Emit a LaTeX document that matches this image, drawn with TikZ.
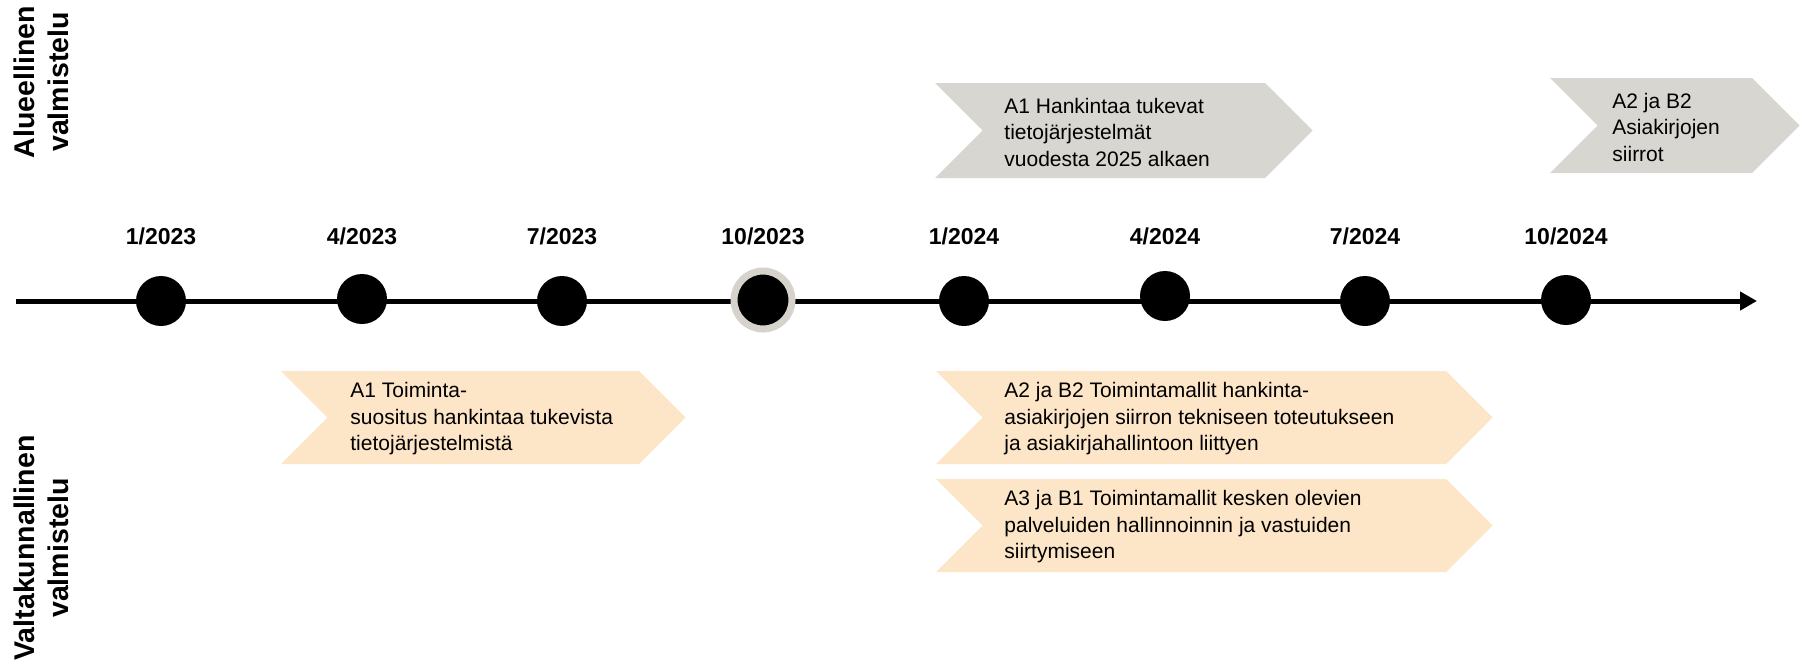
\documentclass[tikz,border=0pt]{standalone}
\usepackage{fontspec}
\setmainfont{Liberation Sans}
\usetikzlibrary{arrows.meta}
\definecolor{chgray}{RGB}{216,214,208}
\definecolor{chorange}{RGB}{253,229,200}
\definecolor{ringgray}{RGB}{214,211,204}
\begin{document}
\begin{tikzpicture}[x=0.5pt,y=-0.5pt,
  boxtext/.style={anchor=west,align=left,inner sep=0pt,font=\fontsize{10.5}{13.25}\selectfont,text=black},
  datelbl/.style={anchor=base,inner sep=0pt,font=\fontsize{11.5}{14}\selectfont\bfseries},
  sidelbl/.style={rotate=90,align=center,inner sep=0pt,font=\fontsize{14.25}{17}\selectfont\bfseries},
  dot/.style={circle,fill=black,minimum size=25pt,inner sep=0pt},
  ringdot/.style={circle,fill=black,draw=ringgray,line width=3.5pt,minimum size=29pt,inner sep=0pt},
  timeline/.style={line width=2.5pt,-{Triangle[length=8.5pt,width=9pt]}}]
\useasboundingbox (0,0) rectangle (1802,665);

% side labels
\node[sidelbl] (lab1) at (41,82) {Alueellinen\\valmistelu};
\node[sidelbl] (lab2) at (41,548) {Valtakunnallinen\\valmistelu};

% chevrons
\fill[chgray] (935,83) -- (1265,83) -- (1312.5,130.5) -- (1265,178) -- (935,178) -- (982.5,130.5) -- cycle;
\fill[chgray] (1550,78) -- (1752,78) -- (1799.5,125.5) -- (1752,173) -- (1550,173) -- (1597.5,125.5) -- cycle;
\fill[chorange] (281,371) -- (639,371) -- (685.5,417.5) -- (639,464) -- (281,464) -- (327.5,417.5) -- cycle;
\fill[chorange] (936,371) -- (1446,371) -- (1492.5,417.5) -- (1446,464) -- (936,464) -- (982.5,417.5) -- cycle;
\fill[chorange] (936,479) -- (1446,479) -- (1492.5,525.5) -- (1446,572) -- (936,572) -- (982.5,525.5) -- cycle;

% chevron texts
\node[boxtext] (t1) at (1004,132) {A1 Hankintaa tukevat\\tietojärjestelmät\\vuodesta 2025 alkaen};
\node[boxtext] (t2) at (1612,127) {A2 ja B2\\Asiakirjojen\\siirrot};
\node[boxtext] (t3) at (350,419) {A1 Toiminta-\\suositus hankintaa tukevista\\tietojärjestelmistä};
\node[boxtext] (t4) at (1004,419) {A2 ja B2 Toimintamallit hankinta-\\asiakirjojen siirron tekniseen toteutukseen\\ja asiakirjahallintoon liittyen};
\node[boxtext] (t5) at (1004,527) {A3 ja B1 Toimintamallit kesken olevien\\palveluiden hallinnoinnin ja vastuiden\\siirtymiseen};

% timeline
\coordinate (tstart) at (16,301);
\coordinate (tend) at (1757,301);
\draw[timeline] (tstart) -- (tend);

\node[dot] (d1) at (161,301) {};
\node[dot] (d2) at (362,299) {};
\node[dot] (d3) at (562,301) {};
\node[ringdot] (d4) at (763,300) {};
\node[dot] (d5) at (964,301) {};
\node[dot] (d6) at (1165,296) {};
\node[dot] (d7) at (1365,301) {};
\node[dot] (d8) at (1566,300) {};

\node[datelbl] (l1) at (161,244) {1/2023};
\node[datelbl] (l2) at (362,244) {4/2023};
\node[datelbl] (l3) at (562,244) {7/2023};
\node[datelbl] (l4) at (763,244) {10/2023};
\node[datelbl] (l5) at (964,244) {1/2024};
\node[datelbl] (l6) at (1165,244) {4/2024};
\node[datelbl] (l7) at (1365,244) {7/2024};
\node[datelbl] (l8) at (1566,244) {10/2024};
\end{tikzpicture}
\end{document}
